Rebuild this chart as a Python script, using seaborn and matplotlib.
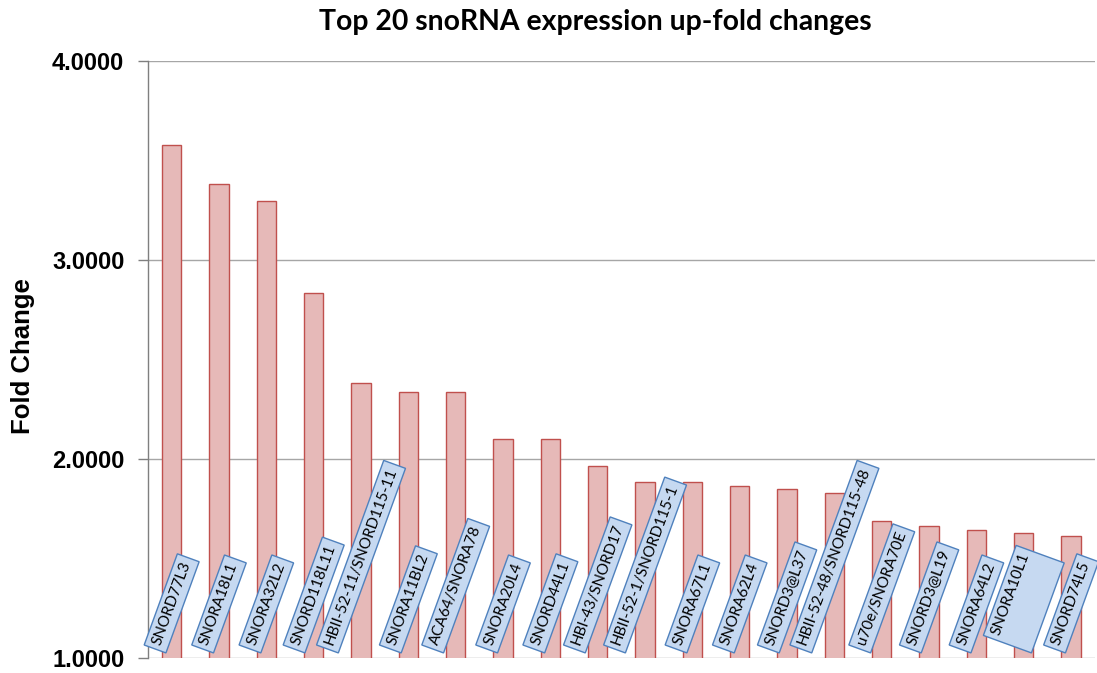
import matplotlib
matplotlib.use("Agg")
import matplotlib.pyplot as plt
import seaborn as sns
import pandas as pd
from matplotlib.ticker import FormatStrFormatter

names = ["SNORD77L3", "SNORA18L1", "SNORA32L2", "SNORD118L11", "HBII-52-11/SNORD115-11",
         "SNORA11BL2", "ACA64/SNORA78", "SNORA20L4", "SNORD44L1", "HBI-43/SNORD17",
         "HBII-52-1/SNORD115-1", "SNORA67L1", "SNORA62L4", "SNORD3@L37", "HBII-52-48/SNORD115-48",
         "u70e/SNORA70E", "SNORD3@L19", "SNORA64L2", "SNORA10L1", "SNORD74L5"]
fold = [3.578, 3.381, 3.296, 2.834, 2.382, 2.337, 2.335, 2.100, 2.100, 1.965,
        1.884, 1.884, 1.864, 1.849, 1.829, 1.688, 1.663, 1.643, 1.628, 1.613]
yticks = [1.0, 2.0, 3.0, 4.0]

sns.set_theme(style="white")
plt.rcParams['font.family'] = ['Lato', 'DejaVu Sans']
plt.rcParams['text.color'] = 'black'
plt.rcParams['axes.labelcolor'] = 'black'
plt.rcParams['ytick.color'] = 'black'

df = pd.DataFrame({"name": names, "fold": fold})

fig = plt.figure(figsize=(10.97, 6.73), dpi=100)
ax = fig.add_axes([0.1349, 0.0223, 0.8631, 0.8871])

sns.barplot(data=df, x="name", y="fold", ax=ax, width=0.41,
            color="#E6B9B8", edgecolor="#C0504D", linewidth=1.0, saturation=1)

ax.set_ylim(1, 4)
ax.set_xlim(-0.5, len(names) - 0.5)
ax.set_yticks(yticks)
ax.yaxis.set_major_formatter(FormatStrFormatter("%.4f"))
ax.yaxis.grid(True, color="#A6A6A6", linewidth=1.0)
ax.set_axisbelow(True)
for s in ["top", "right", "bottom"]:
    ax.spines[s].set_visible(False)
ax.spines["left"].set_color("#7F7F7F")
ax.spines["left"].set_linewidth(1.0)
ax.tick_params(axis="y", which="major", direction="out", length=7, width=1,
               color="#7F7F7F", labelcolor="black", left=True, labelsize=17, pad=10)
for t in ax.get_yticklabels():
    t.set_fontweight("bold")
    t.set_family(["Liberation Sans", "DejaVu Sans"])
ax.set_xticks([])
ax.set_xlabel("")
ax.set_ylabel("Fold Change", fontsize=18.5, fontweight="bold", color="black",
              family=["Liberation Sans", "DejaVu Sans"])
ax.yaxis.set_label_coords(-0.119, 0.506)

for i, n in enumerate(names):
    label = n + "\n \n " if n == "SNORA10L1" else n
    ax.text(i, 1.055, label, rotation=70, ha="center", va="bottom",
            fontsize=11, color="black", rotation_mode="default", linespacing=1.0,
            bbox=dict(boxstyle="square,pad=0.3", facecolor="#C6D9F1",
                      edgecolor="#4F81BD", linewidth=1.0))

fig.text(0.543, 0.967, "Top 20 snoRNA expression up-fold changes",
         ha="center", va="center", fontsize=20.4, fontweight="bold", color="black")

fig.savefig("out.png", dpi=100)
